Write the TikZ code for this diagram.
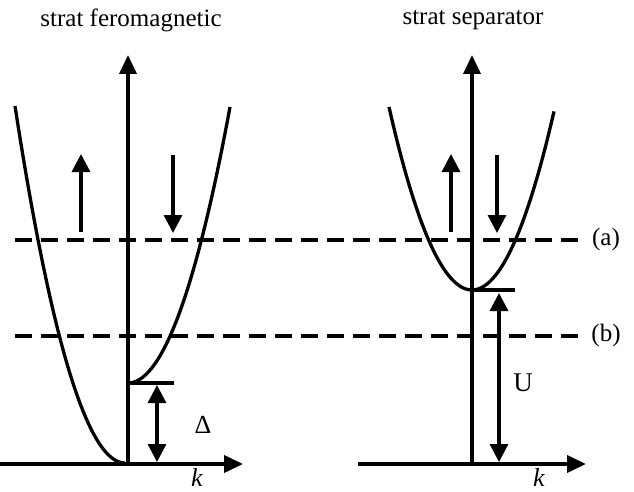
\documentclass[tikz,border=0pt]{standalone}
\usepackage{fontspec}
\setmainfont{Liberation Serif}
\usetikzlibrary{arrows.meta}

\begin{document}
\begin{tikzpicture}[
    x=1pt, y=-1pt,
    axis/.style={line width=3.8pt, -{Triangle[length=19pt,width=17pt]}},
    band/.style={line width=3.3pt},
    level/.style={line width=3.4pt, dash pattern=on 17pt off 9pt},
    spin/.style={line width=3.2pt, -{Triangle[length=18pt,width=18pt]}},
    gap/.style={line width=3.2pt, {Triangle[length=18pt,width=18pt]}-{Triangle[length=18pt,width=18pt]}},
    edge/.style={line width=3.5pt},
    lbl/.style={font=\fontsize{25}{27}\selectfont, inner sep=0pt}
  ]
    \useasboundingbox (0,0) rectangle (634,492);

    % titles
    \node[lbl] (tferro) at (131,20) {strat feromagnetic};
    \node[lbl] (tsep) at (473,20) {strat separator};

    % Fermi levels
    \coordinate (la) at (15,240);
    \coordinate (ra) at (583,240);
    \coordinate (lb) at (15,336);
    \coordinate (rb) at (583,336);
    \draw[level] (la) -- (ra);
    \draw[level] (lb) -- (rb);
    \node[lbl] (labela) at (606,239) {(a)};
    \node[lbl] (labelb) at (606,335) {(b)};

    % ferromagnetic layer
    \coordinate (o1) at (128,464);
    \coordinate (e1) at (128,55);
    \coordinate (s1) at (0,464);
    \coordinate (k1) at (243,464);
    \draw[band] plot[domain=0:110, samples=40, smooth] ({125-\x},{463-357*(\x/110)^2});
    \draw[band] plot[domain=0:102, samples=40, smooth] ({128+\x},{383-276*(\x/102)^2});
    \coordinate (d1) at (128,383);
    \coordinate (d2) at (174,383);
    \draw[edge] (d1) -- (d2);
    \draw[axis] (s1) -- (k1);
    \draw[axis] (o1) -- (e1);
    \coordinate (up1a) at (81,232);
    \coordinate (up1b) at (81,154);
    \coordinate (dn1a) at (173,155);
    \coordinate (dn1b) at (173,233);
    \draw[spin] (up1a) -- (up1b);
    \draw[spin] (dn1a) -- (dn1b);
    \coordinate (g1a) at (157,385);
    \coordinate (g1b) at (157,462);
    \draw[gap] (g1a) -- (g1b);
    \node[lbl, font=\fontsize{26}{28}\selectfont] (delta) at (203,425) {Δ};
    \node[lbl, font=\fontsize{26}{28}\selectfont\itshape] (kleft) at (197,477) {k};

    % separator layer
    \coordinate (o2) at (472,464);
    \coordinate (e2) at (472,55);
    \coordinate (s2) at (358,464);
    \coordinate (k2) at (586,464);
    \draw[band] plot[domain=-83:82, samples=60, smooth] ({472+\x},{290-183*(\x/83)^2});
    \coordinate (u1) at (472,290);
    \coordinate (u2) at (515,290);
    \draw[edge] (u1) -- (u2);
    \draw[axis] (s2) -- (k2);
    \draw[axis] (o2) -- (e2);
    \coordinate (up2a) at (451,232);
    \coordinate (up2b) at (451,154);
    \coordinate (dn2a) at (497,155);
    \coordinate (dn2b) at (497,233);
    \draw[spin] (up2a) -- (up2b);
    \draw[spin] (dn2a) -- (dn2b);
    \coordinate (g2a) at (499,293);
    \coordinate (g2b) at (499,462);
    \draw[gap] (g2a) -- (g2b);
    \node[lbl, font=\fontsize{27}{29}\selectfont] (ulabel) at (523,383) {U};
    \node[lbl, font=\fontsize{26}{28}\selectfont\itshape] (kright) at (539,477) {k};
  \end{tikzpicture}
\end{document}
